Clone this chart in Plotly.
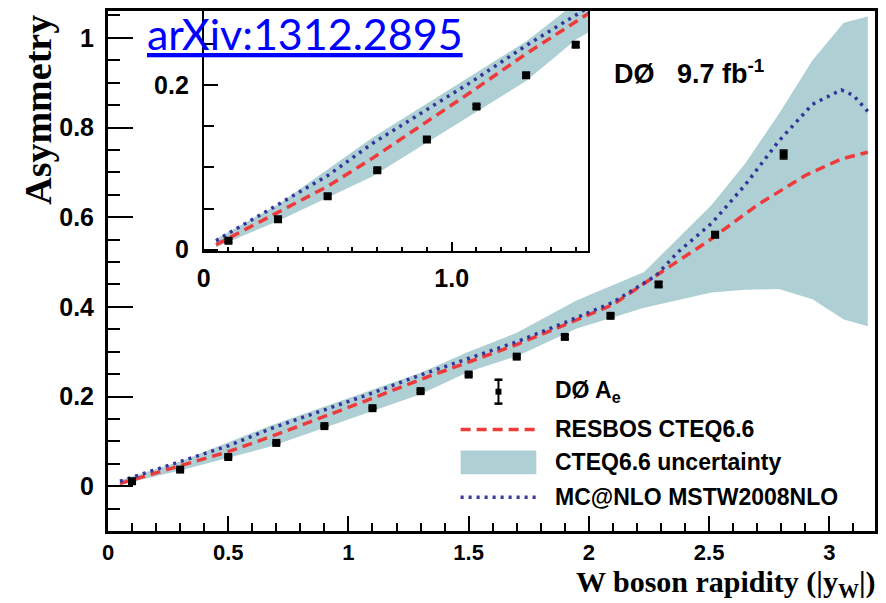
import plotly.graph_objects as go

# ---- measured W charge asymmetry (DØ, electron channel) ----
y_w = [0.1, 0.3, 0.5, 0.7, 0.9, 1.1, 1.3, 1.5, 1.7, 1.9, 2.09, 2.29, 2.525, 2.81]
asym = [0.011, 0.037, 0.065, 0.0965, 0.134, 0.174, 0.212, 0.249, 0.289, 0.333,
        0.38, 0.45, 0.561, 0.74]
asym_err = [0.002, 0.002, 0.002, 0.002, 0.002, 0.002, 0.003, 0.003, 0.003, 0.004,
            0.004, 0.005, 0.006, 0.010]

# ---- RESBOS CTEQ6.6 prediction ----
resbos_x = [0.05, 0.3, 0.5, 0.68, 0.9, 1.08, 1.3, 1.5, 1.7, 1.9, 2.1, 2.28, 2.5,
            2.7, 2.9, 3.05, 3.16]
resbos_y = [0.006, 0.046, 0.077, 0.111, 0.155, 0.192, 0.238, 0.276, 0.316, 0.36,
            0.405, 0.47, 0.548, 0.627, 0.693, 0.73, 0.745]

# ---- CTEQ6.6 PDF uncertainty band ----
band_x = [0.05, 0.3, 0.68, 1.08, 1.3, 1.5, 1.7, 1.95, 2.23, 2.51, 2.65, 2.79,
          2.93, 3.06, 3.16]
band_lo = [0.003, 0.035, 0.089, 0.164, 0.205, 0.255, 0.29, 0.352, 0.398, 0.432,
           0.438, 0.44, 0.417, 0.372, 0.357]
band_hi = [0.013, 0.055, 0.136, 0.211, 0.253, 0.30, 0.342, 0.415, 0.478, 0.627,
           0.72, 0.83, 0.95, 1.034, 1.048]

# ---- MC@NLO MSTW2008NLO prediction ----
mcnlo_x = [0.05, 0.3, 0.5, 0.68, 0.9, 1.08, 1.3, 1.5, 1.7, 1.9, 2.1, 2.28, 2.37,
           2.51, 2.65, 2.79, 2.93, 3.05, 3.1, 3.16]
mcnlo_y = [0.011, 0.055, 0.09, 0.129, 0.17, 0.204, 0.248, 0.285, 0.322, 0.365,
           0.41, 0.47, 0.522, 0.586, 0.672, 0.77, 0.852, 0.884, 0.872, 0.836]

BAND = "#aecfd4"
RED = "#ee3a3a"
BLUE = "#34349a"

fig = go.Figure()


def add_set(xa, ya, msize):
    fig.add_trace(go.Scatter(x=band_x, y=band_lo, mode="lines", line=dict(width=0),
                             xaxis=xa, yaxis=ya, hoverinfo="skip"))
    fig.add_trace(go.Scatter(x=band_x, y=band_hi, mode="lines", line=dict(width=0),
                             fill="tonexty", fillcolor=BAND, xaxis=xa, yaxis=ya,
                             hoverinfo="skip"))
    fig.add_trace(go.Scatter(x=resbos_x, y=resbos_y, mode="lines",
                             line=dict(color=RED, width=3.5, dash="10px,6px"),
                             xaxis=xa, yaxis=ya))
    fig.add_trace(go.Scatter(x=mcnlo_x, y=mcnlo_y, mode="lines",
                             line=dict(color=BLUE, width=3.5, dash="3px,5px"),
                             xaxis=xa, yaxis=ya))
    fig.add_trace(go.Scatter(x=y_w, y=asym, mode="markers",
                             marker=dict(symbol="square", size=msize, color="black"),
                             error_y=dict(type="data", array=asym_err, color="black",
                                          thickness=1.5, width=4),
                             xaxis=xa, yaxis=ya))


add_set("x", "y", 8)
add_set("x2", "y2", 8)

tickfont = dict(family="Liberation Sans", size=25, color="black", weight="bold")
xtickfont = dict(family="Liberation Sans", size=22, color="black", weight="bold")
small_tickfont = dict(family="Liberation Sans", size=25, color="black", weight="bold")

L, R, T, B = 108, 8, 8.5, 72
W, H = 886, 603
PW, PH = W - L - R, H - T - B


def px(x):
    return (x - L) / PW


def py(y):
    return (H - B - y) / PH


INSET_X = [px(204), px(590)]
INSET_Y = [py(250), 1]
INSET_XR = [0, 1.55]
INSET_YR = [-0.002, 0.29]

fig.update_layout(
    width=W, height=H,
    margin=dict(l=L, r=R, t=T, b=B),
    paper_bgcolor="white", plot_bgcolor="white",
    showlegend=False,
    xaxis=dict(domain=[0, 1], anchor="y", range=[0, 3.19], showline=True,
               linewidth=3, linecolor="black", mirror=True, ticks="inside",
               ticklen=15, tickwidth=1.5, tickcolor="black", tick0=0, dtick=0.5,
               tickfont=xtickfont, ticklabelstandoff=0,
               minor=dict(dtick=0.1, ticks="inside", ticklen=8, tickwidth=1.5,
                          tickcolor="black"),
               showgrid=False, zeroline=False),
    yaxis=dict(domain=[0, 1], anchor="x", range=[-0.1, 1.06], showline=True,
               linewidth=3, linecolor="black", mirror=True, ticks="inside",
               ticklen=25, tickwidth=1.5, tickcolor="black", tick0=0, dtick=0.2,
               tickfont=tickfont, ticklabelstandoff=6,
               minor=dict(dtick=0.05, ticks="inside", ticklen=12, tickwidth=1.5,
                          tickcolor="black"),
               showgrid=False, zeroline=False),
    # inset axes: labelled ticks
    xaxis2=dict(domain=INSET_X, anchor="y2", range=INSET_XR,
                showline=True, linewidth=1.5, linecolor="black", mirror=True,
                ticks="inside", ticklen=10, tickwidth=1.5, tickcolor="black",
                tickvals=[0, 1.0], ticktext=["0", "1.0"],
                tickfont=small_tickfont, ticklabelstandoff=4,
                minor=dict(dtick=0.1, ticks="inside", ticklen=5, tickwidth=1.5,
                           tickcolor="black"),
                showgrid=False, zeroline=False),
    yaxis2=dict(domain=INSET_Y, anchor="x2", range=INSET_YR,
                showline=True, linewidth=1.5, linecolor="black", mirror=True,
                ticks="inside", ticklen=15, tickwidth=1.5, tickcolor="black",
                tickvals=[0, 0.2], ticktext=["0", "0.2"],
                tickfont=small_tickfont, ticklabelstandoff=8,
                minor=dict(dtick=0.05, ticks="inside", ticklen=11, tickwidth=1.5,
                           tickcolor="black"),
                showgrid=False, zeroline=False),
    # inset axes: extra unlabelled tick marks
    xaxis3=dict(domain=INSET_X, anchor="y2", overlaying="x2", range=INSET_XR,
                showline=False, ticks="inside", ticklen=9, tickwidth=1.5,
                tickcolor="black", tick0=0.5, dtick=1.0, showticklabels=False,
                showgrid=False, zeroline=False),
    yaxis3=dict(domain=INSET_Y, anchor="x2", overlaying="y2", range=INSET_YR,
                showline=False, ticks="inside", ticklen=6, tickwidth=1.5,
                tickcolor="black", tick0=0, dtick=0.01, showticklabels=False,
                showgrid=False, zeroline=False),
)

annots = []
# axis titles
annots.append(dict(text="Asymmetry", textangle=-90, xref="paper", yref="paper",
                   x=px(38), y=py(10), xanchor="center", yanchor="top",
                   showarrow=False,
                   font=dict(family="Liberation Serif", size=38, color="black",
                             weight="bold")))
annots.append(dict(text="W boson rapidity (|y<sub>W</sub>|)", xref="paper",
                   yref="paper", x=px(881), y=py(584), xanchor="right",
                   yanchor="middle", showarrow=False,
                   font=dict(family="Liberation Serif", size=30, color="black",
                             weight="bold")))
# experiment / luminosity label
annots.append(dict(text="DØ\u00a0\u00a0\u00a09.7 fb<sup>-1</sup>", xref="paper",
                   yref="paper", x=px(614), y=py(70), xanchor="left",
                   yanchor="middle", showarrow=False,
                   font=dict(family="Liberation Sans", size=27, color="black",
                             weight="bold")))
# reference tag
annots.append(dict(text="<u>arXiv:1312.2895</u>", xref="paper", yref="paper",
                   x=px(145), y=py(31), xanchor="left", yanchor="middle",
                   showarrow=False,
                   font=dict(family="Lato", size=43, color="#0000ff")))

# legend
leg_font = dict(family="Liberation Sans", size=23, color="black", weight="bold")
leg_text_x = px(555)
leg_rows = [("DØ A<sub>e</sub>", 391), ("RESBOS CTEQ6.6", 429),
            ("CTEQ6.6 uncertainty", 462), ("MC@NLO MSTW2008NLO", 497)]
for txt, yy in leg_rows:
    annots.append(dict(text=txt, xref="paper", yref="paper", x=leg_text_x,
                       y=py(yy), xanchor="left", yanchor="middle",
                       showarrow=False, font=leg_font))
fig.update_layout(annotations=annots)

shapes = []
x0s, x1s = px(462), px(538)
# data sample: error bar with caps and marker
cx = px(500)
shapes.append(dict(type="line", xref="paper", yref="paper", x0=cx, x1=cx,
                   y0=py(378), y1=py(404), line=dict(color="black", width=2)))
for yy in (379, 403):
    shapes.append(dict(type="line", xref="paper", yref="paper", x0=px(496),
                       x1=px(504), y0=py(yy), y1=py(yy),
                       line=dict(color="black", width=2.5)))
shapes.append(dict(type="rect", xref="paper", yref="paper", x0=px(497), x1=px(503),
                   y0=py(388), y1=py(394), fillcolor="black",
                   line=dict(width=0)))
shapes.append(dict(type="line", xref="paper", yref="paper", x0=x0s, x1=x1s,
                   y0=py(429), y1=py(429),
                   line=dict(color=RED, width=3.5, dash="10px,6px")))
shapes.append(dict(type="rect", xref="paper", yref="paper", x0=x0s, x1=x1s,
                   y0=py(474), y1=py(450), fillcolor=BAND, line=dict(width=0)))
shapes.append(dict(type="line", xref="paper", yref="paper", x0=x0s, x1=x1s,
                   y0=py(497), y1=py(497),
                   line=dict(color=BLUE, width=3.5, dash="3px,5px")))
fig.update_layout(shapes=shapes)

fig.write_html("out.html")
